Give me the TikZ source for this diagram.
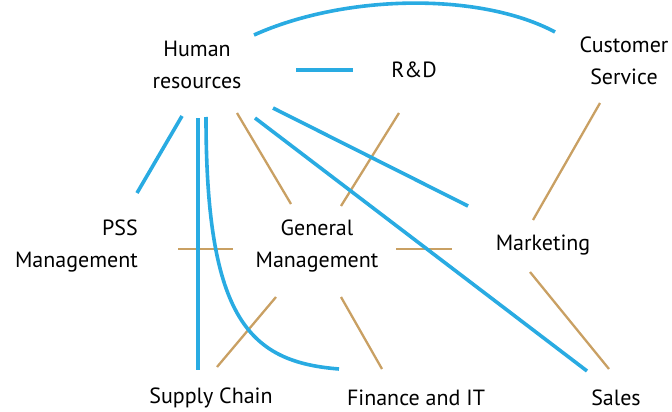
\documentclass[tikz,border=0pt]{standalone}
\usepackage{fontspec}
\setmainfont{PT Sans}
\begin{document}
\begin{tikzpicture}[x=1pt,y=-1pt,
  lbl/.style={inner sep=0pt,font=\fontsize{22}{32.5}\selectfont,align=center},
  blu/.style={draw={rgb,255:red,41;green,171;blue,226},line width=3.6pt},
  tan/.style={draw={rgb,255:red,201;green,160;blue,99},line width=2.3pt}]
\useasboundingbox (0,0) rectangle (672,412);
% nodes
\node[lbl] (hr) at (197,65) {Human\\resources};
\node[lbl] (rd) at (414,70) {R\&D};
\node[lbl] (cs) at (624,61) {Customer\\Service};
\node[lbl,align=right,anchor=east] (pss) at (138,246) {PSS\\Management};
\node[lbl] (gm) at (317,246) {General\\Management};
\node[lbl] (mk) at (543,245) {Marketing};
\node[lbl] (sc) at (211,398) {Supply Chain};
\node[lbl] (fi) at (416,398) {Finance and IT};
\node[lbl] (sa) at (616,398) {Sales};
% endpoints
\coordinate (hrA) at (254,35);  \coordinate (csA) at (555,32);
\coordinate (hrB) at (296,70);  \coordinate (rdB) at (353,70);
\coordinate (hrC) at (182,116); \coordinate (pssC) at (137,193);
\coordinate (hrD) at (198,118); \coordinate (scD) at (198,370);
\coordinate (hrE) at (206,117); \coordinate (fiE) at (339,369);
\coordinate (hrF) at (255,118); \coordinate (saF) at (587,371);
\coordinate (hrG) at (273,108); \coordinate (mkG) at (468,206);
\coordinate (hrH) at (237,113); \coordinate (gmH) at (291,204);
\coordinate (rdI) at (399,113); \coordinate (gmI) at (341,206);
\coordinate (pssJ) at (178,249); \coordinate (gmJ) at (233,249);
\coordinate (gmK) at (396,249); \coordinate (mkK) at (452,249);
\coordinate (gmL) at (276,297); \coordinate (scL) at (217,367);
\coordinate (gmM) at (341,297); \coordinate (fiM) at (382,369);
\coordinate (csN) at (600,103); \coordinate (mkN) at (533,220);
\coordinate (mkO) at (530,272); \coordinate (saO) at (609,369);
% tan connectors
\draw[tan] (hrH) -- (gmH);
\draw[tan] (rdI) -- (gmI);
\draw[tan] (pssJ) -- (gmJ);
\draw[tan] (gmK) -- (mkK);
\draw[tan] (gmL) -- (scL);
\draw[tan] (gmM) -- (fiM);
\draw[tan] (csN) -- (mkN);
\draw[tan] (mkO) -- (saO);
% blue connectors
\draw[blu] (hrA) .. controls (345,-6) and (480,-8) .. (csA);
\draw[blu] (hrB) -- (rdB);
\draw[blu] (hrC) -- (pssC);
\draw[blu] (hrD) -- (scD);
\draw[blu] (hrE) .. controls (206,320) and (250,362) .. (fiE);
\draw[blu] (hrF) -- (saF);
\draw[blu] (hrG) -- (mkG);
\end{tikzpicture}
\end{document}
